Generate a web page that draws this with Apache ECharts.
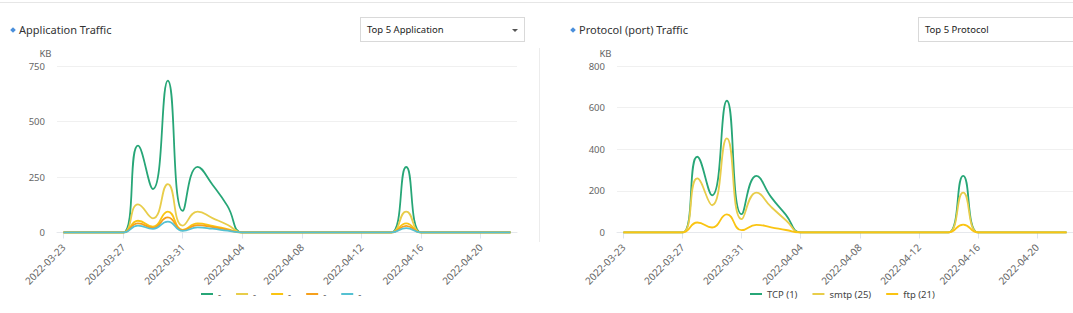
<!DOCTYPE html>
<html>
<head>
<meta charset="utf-8">
<script src="https://cdn.jsdelivr.net/npm/echarts@6/dist/echarts.min.js"></script>
<style>
  body { margin: 0; width: 1073px; height: 313px; overflow: hidden; background: #fff; position: relative; font-family: "Noto Sans", sans-serif; }
  #chart { position: absolute; left: 0; top: 0; width: 1073px; height: 313px; }
  .topline { position: absolute; left: 0; top: 2px; width: 1073px; height: 1px; background: #e6e6e6; }
  .divider { position: absolute; left: 539px; top: 48px; width: 1px; height: 194px; background: #ececec; }
  .title { position: absolute; top: 21px; font-size: 11px; color: #333; line-height: 18px; white-space: nowrap; }
  .dot { position: absolute; top: 28px; width: 4px; height: 4px; background: #4a8fdc; transform: rotate(45deg); }
  .select { position: absolute; top: 17px; height: 25px; border: 1px solid #d9d9d9; background: #fff; box-sizing: border-box; font-size: 9.5px; color: #222; line-height: 24px; padding-left: 6px; white-space: nowrap; }
  .caret { position: absolute; right: 6px; top: 11px; width: 0; height: 0; border-left: 3px solid transparent; border-right: 3px solid transparent; border-top: 3px solid #555; }
</style>
</head>
<body>
<div class="topline"></div>
<div class="divider"></div>
<div class="dot" style="left:11px"></div>
<div class="title" style="left:19px">Application Traffic</div>
<div class="select" style="left:360px;width:165px">Top 5 Application<span class="caret"></span></div>
<div class="dot" style="left:571px"></div>
<div class="title" style="left:579px">Protocol (port) Traffic</div>
<div class="select" style="left:918px;width:170px">Top 5 Protocol</div>
<div id="chart"></div>
<script>
const dates = [
  "2022-03-23", "2022-03-24", "2022-03-25", "2022-03-26", "2022-03-27", "2022-03-28", "2022-03-29", "2022-03-30",
  "2022-03-31", "2022-04-01", "2022-04-02", "2022-04-03", "2022-04-04", "2022-04-05", "2022-04-06", "2022-04-07",
  "2022-04-08", "2022-04-09", "2022-04-10", "2022-04-11", "2022-04-12", "2022-04-13", "2022-04-14", "2022-04-15",
  "2022-04-16", "2022-04-17", "2022-04-18", "2022-04-19", "2022-04-20", "2022-04-21", "2022-04-22"
];
const tickIndexes = [0, 4, 8, 12, 16, 20, 24, 28];

// Application traffic, KB (names unknown, shown as "-")
const appNames = ["app1", "app2", "app3", "app4", "app5"];
const app1 = [0,0,0,0,0,391,196,684,98,296,215,120,0,0,0,0,0,0,0,0,0,0,0,295,0,0,0,0,0,0,0];
const app2 = [0,0,0,0,0,127,64,218,31,94,65,35,0,0,0,0,0,0,0,0,0,0,0,94,0,0,0,0,0,0,0];
const app3 = [0,0,0,0,0,53,26,94,12,41,30,15,0,0,0,0,0,0,0,0,0,0,0,41,0,0,0,0,0,0,0];
const app4 = [0,0,0,0,0,41,21,68,10,33,24,12,0,0,0,0,0,0,0,0,0,0,0,30,0,0,0,0,0,0,0];
const app5 = [0,0,0,0,0,31,16,49,7,23,17,8,0,0,0,0,0,0,0,0,0,0,0,20,0,0,0,0,0,0,0];

// Protocol traffic, KB
const protoNames = ["TCP (1)", "smtp (25)", "ftp (21)"];
const tcp = [0,0,0,0,0,364,179,633,88,272,170,85,0,0,0,0,0,0,0,0,0,0,0,272,0,0,0,0,0,0,0];
const smtp = [0,0,0,0,0,260,131,452,64,192,123,59,0,0,0,0,0,0,0,0,0,0,0,192,0,0,0,0,0,0,0];
const ftp = [0,0,0,0,0,48,24,87,11,37,25,12,0,0,0,0,0,0,0,0,0,0,0,38,0,0,0,0,0,0,0];

const appColors = ["#27a677", "#e8cd4a", "#fac412", "#f6a01c", "#55c1d2"];
const protoColors = ["#27a677", "#e8cd4a", "#fac412"];

const chart = echarts.init(document.getElementById("chart"), null, { renderer: "svg" });

const font = "Noto Sans";

const xAxisFor = (gridIndex) => ({
  type: "value",
  gridIndex,
  min: -0.436,
  max: 30.436,
  splitLine: { show: false },
  axisLine: { show: true, lineStyle: { color: "#e6e8ec", width: 1 } },
  axisTick: { show: true, customValues: tickIndexes, length: 6, lineStyle: { color: "#dde4ee" } },
  axisLabel: {
    customValues: tickIndexes,
    formatter: (v) => dates[Math.round(v)],
    rotate: 45,
    margin: 13,
    color: "#666",
    fontSize: 10,
    fontFamily: font,
  },
});

const yAxisFor = (gridIndex, max, interval) => ({
  type: "value",
  gridIndex,
  min: 0,
  max,
  interval,
  name: "KB",
  nameGap: 8,
  nameTextStyle: { align: "right", padding: [0, 12, 0, 0], color: "#666", fontSize: 9.5, fontFamily: font },
  axisLine: { show: false },
  axisTick: { show: false },
  axisLabel: { margin: 12, color: "#666", fontSize: 9.5, fontFamily: font },
  splitLine: { lineStyle: { color: "#f0f0f0", width: 1 } },
});

const lineSeries = (name, values, color, axisIndex) => ({
  name,
  type: "line",
  xAxisIndex: axisIndex,
  yAxisIndex: axisIndex,
  smooth: true,
  showSymbol: false,
  data: values.map((v, i) => [i, v]),
  lineStyle: { color, width: 1.8 },
  itemStyle: { color },
});

const appValues = [app1, app2, app3, app4, app5];
const protoValues = [tcp, smtp, ftp];

const option = {
  animation: false,
  grid: [
    { left: 57, top: 66, width: 460, height: 166.5 },
    { left: 617, top: 66, width: 460, height: 166.5 },
  ],
  xAxis: [xAxisFor(0), xAxisFor(1)],
  yAxis: [yAxisFor(0, 750, 250), yAxisFor(1, 800, 200)],
  legend: [
    {
      data: appNames,
      left: 196,
      top: 284,
      icon: "rect",
      itemWidth: 12,
      itemHeight: 2,
      itemGap: 15,
      formatter: () => "-",
      textStyle: { color: "#555", fontSize: 9.5, fontFamily: font },
    },
    {
      data: protoNames,
      left: 745,
      top: 284,
      icon: "rect",
      itemWidth: 12,
      itemHeight: 2,
      itemGap: 15,
      textStyle: { color: "#444", fontSize: 9.5, fontFamily: font },
    },
  ],
  series: [
    ...appNames.map((n, i) => lineSeries(n, appValues[i], appColors[i], 0)),
    ...protoNames.map((n, i) => lineSeries(n, protoValues[i], protoColors[i], 1)),
  ],
};

chart.setOption(option);
</script>
</body>
</html>
